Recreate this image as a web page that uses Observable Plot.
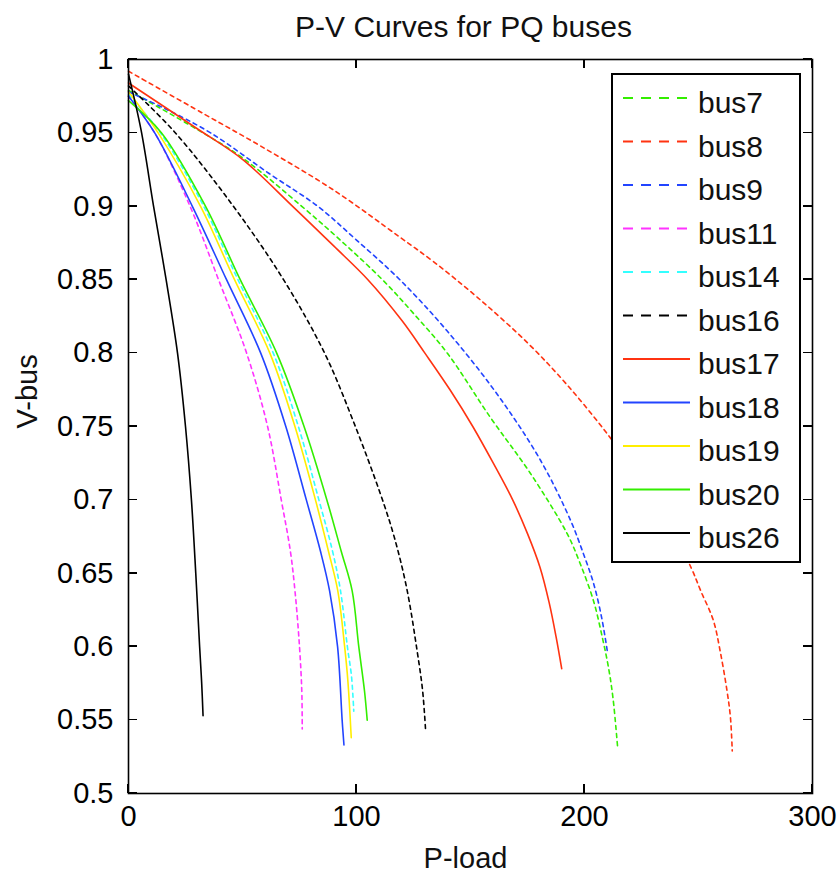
<!DOCTYPE html>
<html>
<head>
<meta charset="utf-8">
<script src="https://cdn.jsdelivr.net/npm/d3@7"></script>
<script src="https://cdn.jsdelivr.net/npm/@observablehq/plot@0.6"></script>
<style>
  html, body { margin: 0; padding: 0; background: #fff; }
  #wrap { position: relative; width: 838px; height: 875px; font-family: "Liberation Sans", Arial, sans-serif; }
  #legend { position: absolute; left: 611px; top: 73px; }
</style>
</head>
<body>
<div id="wrap"></div>
<script>
// ---- data (P-load, V-bus) ----
const titleText = "P-V Curves for PQ buses";
const xLabel = "P-load";
const yLabel = "V-bus";
const xTicks = [0, 100, 200, 300];
const yTicks = [0.5, 0.55, 0.6, 0.65, 0.7, 0.75, 0.8, 0.85, 0.9, 0.95, 1];

const seriesNames = ["bus7", "bus8", "bus9", "bus11", "bus14", "bus16", "bus17", "bus18", "bus19", "bus20", "bus26"];
const seriesColors = ["#33ee00", "#ff3311", "#2244ff", "#ff33ff", "#33ffff", "#000000", "#ff3311", "#2244ff", "#ffee00", "#33ee00", "#000000"];
const seriesDashed = [true, true, true, true, true, true, false, false, false, false, false];

const bus7 = [[0,0.979],[31.6,0.951],[50,0.933],[76,0.90],[95,0.874],[112,0.849],[125,0.827],[139.8,0.80],[158.8,0.756],[176.3,0.718],[192.4,0.677],[198,0.657],[204,0.631],[208,0.605],[210.5,0.586],[212.5,0.565],[214.5,0.532]];
const bus8 = [[0,0.992],[33,0.963],[58,0.941],[90,0.911],[119,0.879],[134,0.862],[153,0.838],[175,0.807],[192,0.779],[210,0.745],[225,0.713],[238,0.681],[247,0.653],[251,0.638],[256.5,0.618],[259.5,0.597],[262.5,0.57],[264,0.552],[264.8,0.529]];
const bus9 = [[0,0.978],[15.4,0.967],[36,0.95],[62,0.922],[83,0.90],[100,0.877],[119,0.85],[139.8,0.815],[161.7,0.772],[180.7,0.727],[193.9,0.686],[199.6,0.663],[204,0.643],[207.5,0.62],[210,0.597]];
const bus11 = [[0,0.975],[11.5,0.95],[27,0.90],[39.5,0.85],[51.8,0.80],[61,0.75],[67,0.70],[71,0.665],[73.2,0.635],[75,0.60],[76,0.57],[76.2,0.544]];
const bus14 = [[0,0.976],[14,0.95],[33,0.90],[48,0.85],[63.5,0.80],[74.5,0.75],[83.5,0.70],[89.5,0.665],[93,0.638],[96,0.60],[97.8,0.58],[98.8,0.556]];
const bus16 = [[0,0.982],[20,0.951],[46,0.90],[68,0.85],[86,0.80],[99,0.752],[110.5,0.704],[116.5,0.675],[122,0.64],[126.6,0.597],[129,0.57],[130.3,0.543]];
const bus17 = [[0,0.984],[30,0.953],[50,0.932],[72,0.90],[90,0.873],[105,0.85],[120,0.822],[130,0.80],[141,0.775],[151,0.75],[160,0.725],[168.5,0.70],[175,0.677],[180.5,0.654],[184.5,0.63],[187.5,0.607],[190,0.585]];
const bus18 = [[0,0.975],[11.5,0.95],[28,0.90],[43,0.85],[58,0.80],[69,0.75],[78,0.70],[84.2,0.665],[88.2,0.638],[91.7,0.60],[93.7,0.55],[94.5,0.533]];
const bus19 = [[0,0.978],[13,0.95],[31.6,0.90],[46.5,0.85],[62,0.80],[73,0.75],[82,0.70],[87.7,0.665],[91.8,0.638],[94.8,0.60],[96.2,0.577],[97.7,0.538]];
const bus20 = [[0,0.972],[14.5,0.95],[33.8,0.90],[49,0.85],[65,0.80],[77,0.75],[87,0.70],[93.3,0.665],[98.1,0.638],[101,0.60],[103.5,0.57],[104.7,0.55]];
const bus26 = [[0,0.99],[5.5,0.952],[11,0.90],[16.5,0.85],[21.5,0.80],[25,0.75],[27.6,0.70],[29.5,0.65],[31.2,0.60],[32.1,0.575],[32.7,0.553]];

const curves = [bus7, bus8, bus9, bus11, bus14, bus16, bus17, bus18, bus19, bus20, bus26];

// ---- chart ----
const FONT = "Liberation Sans, Arial, sans-serif";
const TICK = 9;

const lineMarks = curves.map((pts, i) =>
  Plot.line(pts, {
    x: d => d[0], y: d => d[1],
    curve: "catmull-rom",
    stroke: seriesColors[i],
    strokeWidth: 1.6,
    strokeDasharray: seriesDashed[i] ? "4,4" : null
  })
);

const chart = Plot.plot({
  width: 838,
  height: 875,
  marginLeft: 128,
  marginRight: 26,
  marginTop: 59,
  marginBottom: 82,
  style: { fontFamily: FONT, fontSize: "29px", color: "#000", background: "#fff", overflow: "visible" },
  x: { domain: [0, 300] },
  y: { domain: [0.5, 1] },
  marks: [
    ...lineMarks,
    Plot.frame({ stroke: "#000", strokeWidth: 1.6 }),
    Plot.axisX({ anchor: "bottom", ticks: xTicks, tickSize: 0, tickPadding: 12, tickFormat: d => String(d), label: null, fontSize: 29 }),
    Plot.axisY({ anchor: "left", ticks: yTicks, tickSize: 0, tickPadding: 15, tickFormat: d => String(+d.toFixed(2)), label: null, fontSize: 29 }),
    Plot.text([titleText], { text: d => d, frameAnchor: "top", lineAnchor: "bottom", dy: -23, dx: -7, fontSize: 30, fill: "#111" }),
    Plot.text([xLabel], { text: d => d, frameAnchor: "bottom", lineAnchor: "bottom", dy: 74, dx: -5, fontSize: 29, fill: "#111" }),
    Plot.text([yLabel], { text: d => d, frameAnchor: "left", lineAnchor: "bottom", rotate: -90, dx: -92, dy: 2, fontSize: 29, fill: "#111" })
  ]
});

// ---- inward tick marks on all four sides, placed through Plot's own scales ----
const sx = chart.scale("x"), sy = chart.scale("y");
const [x0, x1] = sx.range, [y0, y1] = sy.range; // y0 = bottom, y1 = top
const xL = Math.min(x0, x1), xR = Math.max(x0, x1);
const yB = Math.max(y0, y1), yT = Math.min(y0, y1);
const tg = d3.select(chart).append("g")
  .attr("stroke", "#000").attr("stroke-width", 1.5).attr("shape-rendering", "crispEdges");
xTicks.forEach(v => {
  const px = sx.apply(v);
  tg.append("line").attr("x1", px).attr("x2", px).attr("y1", yB).attr("y2", yB - TICK);
  tg.append("line").attr("x1", px).attr("x2", px).attr("y1", yT).attr("y2", yT + TICK);
});
yTicks.forEach(v => {
  const py = sy.apply(v);
  tg.append("line").attr("y1", py).attr("y2", py).attr("x1", xL).attr("x2", xL + TICK);
  tg.append("line").attr("y1", py).attr("y2", py).attr("x1", xR).attr("x2", xR - TICK);
});

const wrap = document.getElementById("wrap");
wrap.appendChild(chart);

// ---- legend (boxed, inside the axes, top right) ----
const legW = 190, legH = 490, rowStart = 25, rowStep = 43.5;
const leg = d3.create("svg")
  .attr("id", "legend")
  .attr("width", legW)
  .attr("height", legH)
  .style("font-family", FONT);
leg.append("rect")
  .attr("x", 1).attr("y", 1).attr("width", legW - 2).attr("height", legH - 2)
  .attr("fill", "#fff").attr("stroke", "#000").attr("stroke-width", 2);
seriesNames.forEach((name, i) => {
  const y = rowStart + rowStep * i;
  leg.append("line")
    .attr("x1", 12).attr("x2", seriesDashed[i] ? 77 : 79)
    .attr("y1", y).attr("y2", y)
    .attr("stroke", seriesColors[i])
    .attr("stroke-width", seriesDashed[i] ? 1.8 : 2.2)
    .attr("stroke-dasharray", seriesDashed[i] ? "10,8" : null);
  leg.append("text")
    .attr("x", 87).attr("y", y + 15)
    .attr("font-size", 30)
    .attr("fill", "#111")
    .text(name);
});
wrap.appendChild(leg.node());
</script>
</body>
</html>
